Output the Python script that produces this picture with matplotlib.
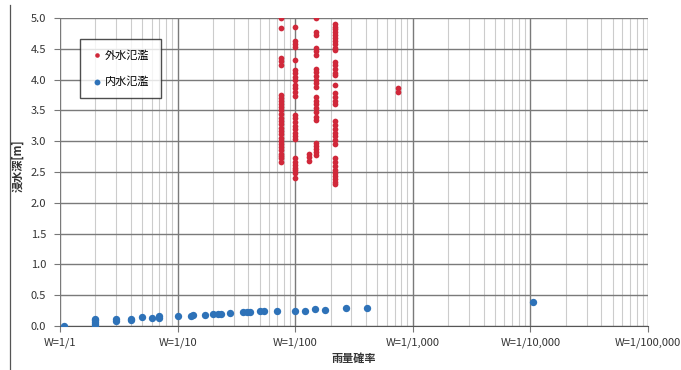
import matplotlib
matplotlib.use("Agg")
import matplotlib.pyplot as plt
from matplotlib.lines import Line2D
from matplotlib.ticker import FixedLocator, LogLocator, NullFormatter

plt.rcParams["font.family"] = ["Noto Sans CJK JP", "DejaVu Sans"]

# 外水氾濫 (return period T in years, depth in m)
gaisui_T = [75] * 27 + [100] * 28 + [130] * 3 + [150] * 24 + [220] * 36 + [750] * 2
gaisui_depth = (
    # T=75
    [5.00, 4.83, 4.35, 4.30, 4.24,
     3.75, 3.70, 3.65, 3.60, 3.55, 3.50, 3.44, 3.38, 3.33, 3.28, 3.22,
     3.17, 3.12, 3.06, 3.00, 2.95, 2.90, 2.85, 2.80, 2.76, 2.72, 2.67]
    # T=100
    + [4.86, 4.62, 4.57, 4.53, 4.32, 4.16, 4.11, 4.05, 4.00, 3.91, 3.86,
       3.80, 3.74, 3.42, 3.37, 3.31, 3.25, 3.20, 3.14, 3.08, 3.04, 2.72,
       2.67, 2.62, 2.57, 2.53, 2.48, 2.40]
    # T=130
    + [2.80, 2.74, 2.68]
    # T=150
    + [5.00, 4.78, 4.72, 4.51, 4.46, 4.40, 4.18, 4.12, 4.06, 4.00, 3.94,
       3.88, 3.72, 3.66, 3.60, 3.54, 3.47, 3.40, 3.34, 2.97, 2.92, 2.87,
       2.82, 2.78]
    # T=220
    + [4.91, 4.86, 4.82, 4.77, 4.72, 4.67, 4.62, 4.57, 4.52, 4.48, 4.29,
       4.23, 4.17, 4.11, 4.07, 3.91, 3.78, 3.72, 3.66, 3.61, 3.32, 3.26,
       3.20, 3.14, 3.08, 3.02, 2.96, 2.72, 2.66, 2.60, 2.54, 2.48, 2.43,
       2.38, 2.34, 2.31]
    # T=750
    + [3.87, 3.80]
)

# 内水氾濫
naisui_T = [1.08, 2, 2, 2, 2, 2, 3, 3, 4, 4, 5, 6, 7, 7, 10, 13, 13.5,
            17, 20, 22, 23.5, 28, 36, 39, 41, 50, 54, 70, 100, 120, 148,
            180, 270, 410, 10500]
naisui_depth = [0.00, 0.00, 0.03, 0.06, 0.09, 0.12, 0.08, 0.11, 0.10, 0.12,
                0.14, 0.13, 0.13, 0.16, 0.16, 0.17, 0.18, 0.18, 0.19, 0.20,
                0.20, 0.21, 0.22, 0.22, 0.22, 0.24, 0.24, 0.24, 0.25, 0.25,
                0.27, 0.26, 0.29, 0.30, 0.39]

x_ticks = [1, 10, 100, 1000, 10000, 100000]
x_ticklabels = ["W=1/1", "W=1/10", "W=1/100", "W=1/1,000", "W=1/10,000", "W=1/100,000"]
y_ticks = [0.0, 0.5, 1.0, 1.5, 2.0, 2.5, 3.0, 3.5, 4.0, 4.5, 5.0]

red = "#d0283a"
blue = "#2e72b8"

fig = plt.figure(figsize=(6.81, 3.70), dpi=100)
ax = fig.add_axes([60 / 681, 44 / 370, 588 / 681, 308 / 370])

ax.set_xscale("log")
ax.set_xlim(1, 100000)
ax.set_ylim(0, 5.0)

ax.scatter(gaisui_T, gaisui_depth, s=17, color=red, zorder=3, label="外水氾濫",
           linewidths=0)
ax.scatter(naisui_T, naisui_depth, s=28, color=blue, zorder=3, label="内水氾濫",
           linewidths=0)

ax.xaxis.set_major_locator(FixedLocator(x_ticks))
ax.set_xticklabels(x_ticklabels)
ax.xaxis.set_minor_locator(LogLocator(base=10, subs=range(2, 10)))
ax.xaxis.set_minor_formatter(NullFormatter())
ax.set_yticks(y_ticks)
ax.set_yticklabels([f"{v:.1f}" for v in y_ticks])

ax.grid(True, which="major", axis="x", color="#7a7a7a", lw=1.0)
ax.grid(True, which="minor", axis="x", color="#cccccc", lw=0.8)
ax.grid(True, which="major", axis="y", color="#7a7a7a", lw=1.0)
ax.set_axisbelow(True)

for side in ["top", "right", "left"]:
    ax.spines[side].set_visible(False)
ax.spines["bottom"].set_color("#555555")

ax.tick_params(axis="x", which="major", length=4, color="#777777",
               labelsize=8, labelcolor="#333333", pad=4)
ax.tick_params(axis="x", which="minor", length=0)
ax.tick_params(axis="y", length=4, color="#777777", labelsize=8,
               labelcolor="#333333", pad=6)

ax.set_xlabel("雨量確率", fontsize=8, fontweight="bold", color="#333333",
              labelpad=3)
ax.set_ylabel("浸水深[m]", fontsize=8, fontweight="bold", color="#333333",
              labelpad=2)
ax.yaxis.set_label_coords(-36 / 588, 0.52)

leg = ax.legend(loc="upper left", bbox_to_anchor=(14 / 588, 1 - 15 / 308),
                fontsize=8, frameon=True, fancybox=False, edgecolor="#222222",
                handletextpad=0.1, labelspacing=1.4, borderpad=1.0,
                handlelength=1.2, markerscale=0.8)
leg.get_frame().set_linewidth(1.0)

fig.add_artist(Line2D([10 / 681, 10 / 681], [0, 1 - 5 / 370], color="#555555",
                      lw=0.9))

fig.savefig("out.png", dpi=100)
